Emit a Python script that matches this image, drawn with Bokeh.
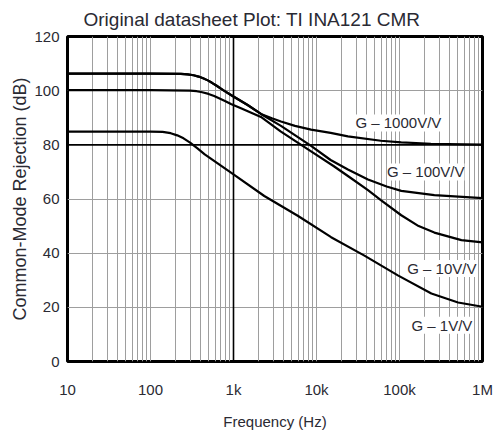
from bokeh.plotting import figure
from bokeh.models import FixedTicker, Span, Label
from bokeh.embed import file_html
from bokeh.resources import INLINE

# ---- data ----
freq_g1000 = [10, 100, 232, 280, 330, 380, 430, 490, 550, 620, 750, 931, 1480, 2140, 2900, 3730, 5500, 8600, 14800, 23900, 59600, 105000, 239000, 1000000]
cmr_g1000 = [106.3, 106.3, 106.2, 106.0, 105.7, 105.2, 104.6, 103.8, 102.9, 101.9, 100.2, 98.4, 94.7, 91.4, 89.8, 88.6, 87.0, 85.6, 84.4, 83.1, 81.5, 80.9, 80.4, 80.1]

freq_g100 = [10, 100, 232, 280, 330, 380, 430, 490, 550, 620, 750, 931, 1480, 2140, 3730, 8600, 14800, 23900, 41700, 70000, 105000, 263000, 1000000]
cmr_g100 = [106.3, 106.3, 106.2, 106.0, 105.7, 105.2, 104.6, 103.8, 102.9, 101.9, 100.2, 98.4, 94.7, 91.4, 87.0, 79.6, 74.4, 70.9, 67.2, 64.6, 63.0, 61.4, 60.3]

freq_g10 = [10, 100, 300, 360, 420, 500, 585, 680, 800, 931, 1230, 2140, 3730, 8600, 16200, 23900, 41700, 59600, 105000, 170000, 263000, 557000, 1000000]
cmr_g10 = [100.2, 100.2, 100.0, 99.8, 99.4, 98.8, 98.0, 97.1, 96.1, 95.1, 93.5, 90.3, 84.9, 77.6, 72.1, 68.5, 63.3, 59.6, 54.0, 50.0, 47.6, 44.8, 44.0]

freq_g1 = [10, 100, 140, 175, 210, 250, 300, 368, 450, 1000, 2350, 5940, 15000, 37800, 95500, 242000, 508000, 1000000]
cmr_g1 = [84.9, 84.9, 84.8, 84.3, 83.5, 82.4, 80.8, 78.7, 76.5, 69.1, 61.1, 53.8, 45.9, 39.1, 31.8, 25.1, 21.8, 20.2]

x_ticks = [10, 100, 1000, 10000, 100000, 1000000]
x_tick_labels = ["10", "100", "1k", "10k", "100k", "1M"]
y_ticks = [0, 20, 40, 60, 80, 100, 120]

series_labels = ["G – 1000V/V", "G – 100V/V", "G – 10V/V", "G – 1V/V"]

TEXT_COLOR = "#2a2a33"
FONT = "Liberation Sans"

p = figure(width=495, height=432, x_axis_type="log", x_range=(10, 1e6), y_range=(0, 120),
           output_backend="svg", toolbar_location=None,
           min_border_left=67, min_border_right=13, min_border_top=36, min_border_bottom=68,
           title="Original datasheet Plot: TI INA121 CMR")

p.background_fill_color = "white"
p.border_fill_color = "white"
p.outline_line_color = "black"
p.outline_line_width = 3

p.title.text_font = FONT
p.title.text_font_size = "19px"
p.title.text_font_style = "normal"
p.title.text_color = TEXT_COLOR
p.title.align = "left"
p.title.offset = 16
p.title.standoff = 13

# grid
grid_x = [m * 10 ** d for d in range(1, 6) for m in range(1, 10) if not (m == 1 and d in (1, 3))]
p.xgrid.ticker = FixedTicker(ticks=grid_x)
p.xgrid.grid_line_color = "#9e9e9e"
p.xgrid.grid_line_width = 1
p.ygrid.ticker = FixedTicker(ticks=[20, 40, 60, 100])
p.ygrid.grid_line_color = "#9e9e9e"
p.ygrid.grid_line_width = 1.2

p.add_layout(Span(location=1000, dimension="height", line_color="black", line_width=1.6, level="underlay"))
p.add_layout(Span(location=80, dimension="width", line_color="black", line_width=1.6, level="underlay"))

# axes
p.xaxis.ticker = FixedTicker(ticks=x_ticks, minor_ticks=[])
p.xaxis.major_label_overrides = {t: s for t, s in zip(x_ticks, x_tick_labels)}
p.yaxis.ticker = FixedTicker(ticks=y_ticks, minor_ticks=[])
for ax in (p.xaxis[0], p.yaxis[0]):
    ax.axis_line_color = None
    ax.major_tick_line_color = None
    ax.minor_tick_line_color = None
    ax.major_tick_out = 0
    ax.major_tick_in = 0
    ax.major_label_text_font = FONT
    ax.major_label_text_font_size = "15px"
    ax.major_label_text_color = TEXT_COLOR
    ax.axis_label_text_font = FONT
    ax.axis_label_text_font_style = "normal"
    ax.axis_label_text_color = TEXT_COLOR

p.xaxis.axis_label = "Frequency (Hz)"
p.xaxis.axis_label_text_font_size = "15px"
p.xaxis.major_label_standoff = 19
p.xaxis.axis_label_standoff = 12

p.yaxis.axis_label = "Common-Mode Rejection (dB)"
p.yaxis.axis_label_text_font_size = "18px"
p.yaxis.major_label_standoff = 8
p.yaxis.axis_label_standoff = 1

# curves
for fx, cy in ((freq_g1000, cmr_g1000), (freq_g100, cmr_g100), (freq_g10, cmr_g10), (freq_g1, cmr_g1)):
    p.line(fx, cy, line_color="black", line_width=2.2, line_join="round")

# curve labels
label_pos = [(96900, 88.1), (207000, 70.0), (324000, 34.3), (324000, 13.4)]
for (lx, ly), txt in zip(label_pos, series_labels):
    p.add_layout(Label(x=lx, y=ly, text=txt, text_align="center", text_baseline="middle",
                       text_font=FONT, text_font_size="15px", text_color=TEXT_COLOR,
                       background_fill_color="white"))

open("out.html", "w").write(file_html(p, INLINE))
